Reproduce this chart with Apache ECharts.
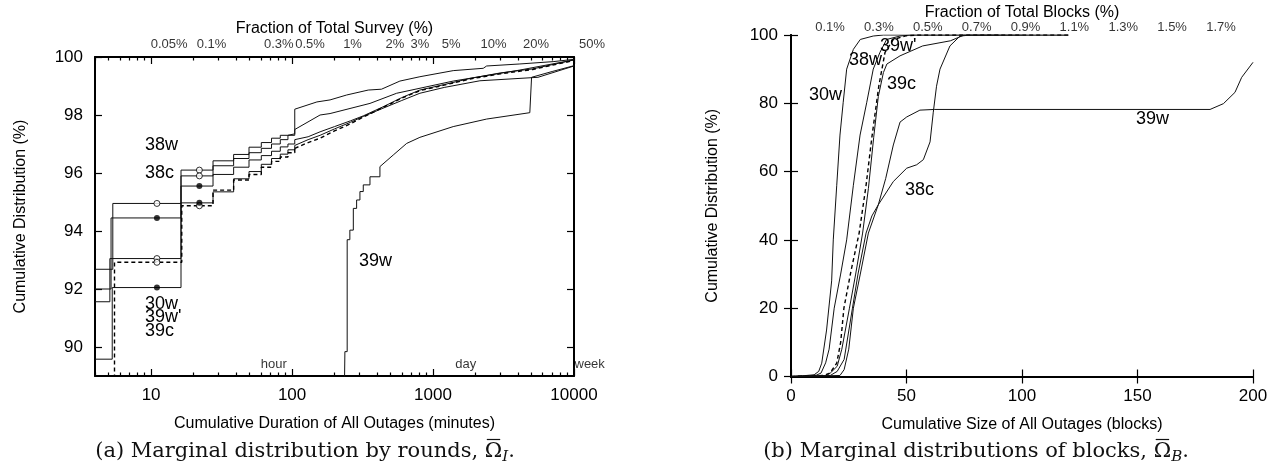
<!DOCTYPE html>
<html>
<head>
<meta charset="utf-8">
<script src="https://cdn.jsdelivr.net/npm/echarts@6/dist/echarts.min.js"></script>
<style>
html, body { margin: 0; background: #fff; }
#chart { width: 1288px; height: 476px; }
</style>
</head>
<body>
<div id="chart"></div>
<script>
// ---- (a) cumulative duration (minutes) vs cumulative distribution (%) ----
// stepped head (CDF steps) and smooth tail of every curve
var dur38wHead = [[4, 92.68], [5.35, 94.95], [16.3, 96.1], [27.5, 96.42], [38.5, 96.64], [49.5, 96.89], [60.5, 97.05], [71.5, 97.2], [82.5, 97.3], [93.5, 97.35], [104.5, 98.2]];
var dur38wTail = [[104.5, 98.2], [150, 98.45], [186, 98.52], [244, 98.69], [347, 98.86], [431, 98.89], [582, 99.17], [807, 99.32], [1390, 99.53], [2270, 99.61], [2400, 99.69], [4130, 99.76], [7110, 99.84], [10000, 99.92]];
var dur38cHead = [[4, 92.0], [5.2, 94.45], [16.3, 95.55], [27.5, 95.95], [38.5, 96.2], [49.5, 96.45], [60.5, 96.6], [71.5, 96.75], [82.5, 96.9], [93.5, 97.0], [104.5, 97.15]];
var dur38cTail = [[104.5, 97.15], [130, 97.25], [158, 97.42], [200, 97.6], [260, 97.8], [320, 97.97], [450, 98.3], [600, 98.6], [807, 98.86], [1200, 99.05], [1828, 99.26], [3000, 99.45], [5100, 99.59], [10000, 99.9]];
var dur30wHead = [[4, 91.56], [5.1, 93.05], [16.3, 95.9], [27.5, 96.25], [38.5, 96.5], [49.5, 96.7], [60.5, 96.85], [71.5, 97.0], [82.5, 97.15], [93.5, 97.3], [104.5, 97.5]];
var dur30wTail = [[104.5, 97.5], [134, 97.8], [158, 98.0], [186, 98.05], [357, 98.4], [552, 98.75], [1390, 99.17], [4130, 99.55], [10000, 99.9]];
var dur39cHead = [[4, 89.58], [5.3, 92.05], [16.3, 94.97], [27.5, 95.35], [38.5, 95.8], [49.5, 96.05], [60.5, 96.3], [71.5, 96.5], [82.5, 96.65], [93.5, 96.8], [104.5, 96.95]];
var dur39cTail = [[104.5, 96.95], [130, 97.15], [158, 97.3], [200, 97.52], [260, 97.75], [320, 97.95], [450, 98.25], [600, 98.5], [807, 98.75], [1200, 98.95], [2150, 99.18], [5550, 99.3], [10000, 99.69]];
var dur39wpHead = [[4, 85], [5.5, 92.92], [16.5, 94.87], [27.5, 95.41], [38.5, 95.76], [49.5, 95.95], [60.5, 96.2], [71.5, 96.4], [82.5, 96.55], [93.5, 96.7], [104.5, 96.85]];
var dur39wpTail = [[104.5, 96.85], [130, 97.05], [158, 97.2], [200, 97.45], [260, 97.7], [320, 97.93], [450, 98.28], [600, 98.58], [807, 98.84], [1200, 99.03], [1828, 99.24], [3000, 99.42], [5100, 99.57], [10000, 99.88]];
var dur39wHead = [[230, 85], [237, 89.84], [246, 93.7], [257, 94.03], [272, 94.78], [287, 95.07], [303, 95.36], [320, 95.59], [357, 95.87], [420, 96.22]];
var dur39wTail = [[420, 96.22], [522, 96.62], [650, 97.02], [807, 97.23], [1390, 97.6], [2400, 97.86], [4860, 98.08], [5000, 99.3], [7000, 99.5], [10000, 99.7]];

var durMarkAt = [11, 22];                 // minutes where circles sit
var durTicks = [10, 100, 1000, 10000];
var durPctTicks = [90, 92, 94, 96, 98, 100];
var surveyTotalMin = 26850;               // minutes in the whole survey (100%)
var surveyFrac = [0.05, 0.1, 0.3, 0.5, 1, 2, 3, 5, 10, 20, 50];
var surveyFracLabels = ['0.05%', '0.1%', '0.3%', '0.5%', '1%', '2%', '3%', '5%', '10%', '20%', '50%'];
var timeMarks = [60, 1440, 10080];
var timeMarkLabels = ['hour', 'day', 'week'];

// ---- (b) cumulative size (blocks) vs cumulative distribution (%) ----
var blk30w = [[0, 0], [5, 0.2], [10, 0.5], [12, 1.5], [13.3, 3.9], [15.4, 13.6], [17.6, 28], [18.3, 40], [19.8, 56], [21.2, 70.7], [22.6, 80.3], [24.1, 90], [27, 95.8], [30, 98.7], [35.6, 99.7], [40, 100], [90, 100]];
var blk38w = [[0, 0], [8, 0.2], [11, 0.4], [13, 1], [15, 4], [16.5, 8], [18.7, 20], [21.5, 30], [24.1, 40], [27, 56], [29.9, 70.7], [32.8, 80.3], [35.6, 90], [38.5, 94.9], [41.4, 98.7], [47.2, 99.7], [52, 100], [100, 100]];
var blk39wp = [[0, 0], [14, 0.3], [16.9, 1], [19.8, 3.9], [21.5, 10], [22.9, 20], [26, 31], [29.5, 42], [32.5, 56], [35, 70], [38, 85], [40.7, 94.9], [44.3, 98.7], [50, 99.8], [55, 100], [121, 100]];
var blk39c = [[0, 0], [15, 0.2], [17, 1], [20, 3], [22, 8], [25.3, 20], [28, 30], [31, 42], [33.5, 55], [35.8, 70], [37.8, 82], [40, 89], [41.5, 91.5], [47.2, 93.9], [57, 96.8], [69, 98.3], [75, 100], [120, 100]];
var blk38c = [[0, 0], [17, 0.3], [20, 1.5], [23, 5], [26.6, 20], [29, 30], [32.5, 42], [35, 47], [37.8, 50.3], [44.3, 57.1], [50.1, 61], [54.4, 62], [57.3, 63.5], [60.2, 68.7], [61.6, 77.4], [63, 85], [64.5, 90], [68.8, 96.8], [73.2, 99.7], [78, 100], [120, 100]];
var blk39w = [[0, 0], [21.2, 0.3], [23, 2], [25, 8], [27, 20], [30, 30], [33.5, 42], [37.8, 50.3], [41, 58], [44.3, 67.8], [47.2, 74.5], [50.1, 76], [55.8, 78], [62, 78.2], [181.4, 78.2], [187.2, 79.9], [192.2, 83.2], [195.1, 87.6], [200, 92]];

var blockFrac = [0.1, 0.3, 0.5, 0.7, 0.9, 1.1, 1.3, 1.5, 1.7];
var blockFracLabels = ['0.1%', '0.3%', '0.5%', '0.7%', '0.9%', '1.1%', '1.3%', '1.5%', '1.7%'];

var SANS = 'Liberation Sans, Arial, Helvetica, sans-serif';
var SERIF_FAMILY = 'DejaVu Serif';

var durMinorTicks = [];
[1, 10, 100, 1000].forEach(function (d) {
    for (var k = 2; k <= 9; k++) if (k * d >= 4) durMinorTicks.push(k * d);
});

function stepValueAt(points, x) {
    var v = null;
    points.forEach(function (p) { if (p[0] <= x) v = p[1]; });
    return v;
}

var roundCurves = [
    {name: '38w', head: dur38wHead, tail: dur38wTail, open: true},
    {name: '38c', head: dur38cHead, tail: dur38cTail, open: false},
    {name: '30w', head: dur30wHead, tail: dur30wTail, open: true},
    {name: '39c', head: dur39cHead, tail: dur39cTail, open: false},
    {name: "39w'", head: dur39wpHead, tail: dur39wpTail, open: true, dashed: true},
    {name: '39w', head: dur39wHead, tail: dur39wTail}
];
var blockCurves = [
    {name: '30w', data: blk30w}, {name: '38w', data: blk38w},
    {name: "39w'", data: blk39wp, dashed: true}, {name: '39c', data: blk39c},
    {name: '38c', data: blk38c}, {name: '39w', data: blk39w}
];

function lineStyle(dashed) {
    return dashed ? {color: '#000', width: 1.4, type: [4, 3]} : {color: '#111', width: 1};
}

var series = [];
var openMarks = [], filledMarks = [];
roundCurves.forEach(function (c) {
    series.push({type: 'line', name: c.name, xAxisIndex: 0, yAxisIndex: 0, data: c.head, step: 'end',
        symbol: 'none', lineStyle: lineStyle(c.dashed), silent: true});
    series.push({type: 'line', name: c.name, xAxisIndex: 0, yAxisIndex: 0, data: c.tail,
        symbol: 'none', lineStyle: lineStyle(c.dashed), silent: true});
    if (c.open === undefined) return;
    durMarkAt.forEach(function (m) {
        (c.open ? openMarks : filledMarks).push([m, stepValueAt(c.head, m)]);
    });
});
series.push({type: 'scatter', xAxisIndex: 0, yAxisIndex: 0, data: openMarks, symbolSize: 6, silent: true,
    itemStyle: {color: '#fff', borderColor: '#000', borderWidth: 1}, z: 5});
series.push({type: 'scatter', xAxisIndex: 0, yAxisIndex: 0, data: filledMarks, symbolSize: 6, silent: true,
    itemStyle: {color: '#000'}, z: 5});
// hour / day / week marks
series.push({type: 'scatter', xAxisIndex: 0, yAxisIndex: 0, clip: false, silent: true, symbolSize: 0,
    data: timeMarks.map(function (m) { return [m, 89]; }),
    label: {show: true, position: 'top', align: 'left', distance: 5, fontSize: 13, fontFamily: SANS, color: '#000',
        formatter: function (p) { return timeMarkLabels[p.dataIndex]; }}});
// top fraction labels (a)
series.push({type: 'scatter', xAxisIndex: 4, yAxisIndex: 0, clip: false, silent: true, symbolSize: 0,
    data: surveyFrac.map(function (f) { return [f, 100]; }),
    label: {show: true, position: 'top', distance: 6, fontSize: 13, fontFamily: SANS, color: '#000',
        formatter: function (p) { return surveyFracLabels[p.dataIndex]; }}});

blockCurves.forEach(function (c) {
    series.push({type: 'line', name: c.name, xAxisIndex: 5, yAxisIndex: 2, data: c.data,
        symbol: 'none', lineStyle: lineStyle(c.dashed), silent: true});
});
// top fraction labels (b)
series.push({type: 'scatter', xAxisIndex: 7, yAxisIndex: 2, clip: false, silent: true, symbolSize: 0,
    data: blockFrac.map(function (f) { return [f, 100]; }),
    label: {show: true, position: 'top', distance: 1, fontSize: 13, fontFamily: SANS, color: '#000',
        formatter: function (p) { return blockFracLabels[p.dataIndex]; }}});

var border = {show: true, lineStyle: {color: '#000', width: 2}};
var nameStyle = {fontSize: 16, fontFamily: SANS, color: '#000'};
var tickLabel = {fontSize: 17, fontFamily: SANS, color: '#000'};
function ticks(len, values) {
    var t = {show: true, inside: true, length: len, lineStyle: {color: '#000', width: 1.2}};
    if (values) t.customValues = values;
    return t;
}
function logAxis(position, extra) {
    return Object.assign({type: 'log', gridIndex: 0, position: position, min: 4, max: 10000, logBase: 10,
        splitLine: {show: false}, axisLine: {show: false}, axisLabel: {show: false}, axisTick: {show: false}}, extra);
}

var option = {
    animation: false,
    backgroundColor: '#fff',
    textStyle: {fontFamily: SANS},
    grid: [
        {left: 95, top: 57, width: 479, height: 319},
        {left: 791, top: 32.5, width: 462, height: 344}
    ],
    xAxis: [
        logAxis('bottom', {axisLine: border, axisTick: ticks(7, durTicks),
            axisLabel: Object.assign({show: true, margin: 11, customValues: durTicks,
                formatter: function (v) { return String(Math.round(v)); }}, tickLabel),
            name: 'Cumulative Duration of All Outages (minutes)', nameLocation: 'middle', nameGap: 40,
            nameTextStyle: nameStyle}),
        logAxis('bottom', {axisTick: ticks(3.5, durMinorTicks)}),
        logAxis('top', {axisLine: border, axisTick: ticks(7, durTicks),
            name: 'Fraction of Total Survey (%)', nameLocation: 'middle', nameGap: 20, nameTextStyle: nameStyle}),
        logAxis('top', {axisTick: ticks(3.5, durMinorTicks)}),
        {type: 'log', gridIndex: 0, position: 'top', show: false,
            min: 4 / surveyTotalMin * 100, max: 10000 / surveyTotalMin * 100},
        {type: 'value', gridIndex: 1, position: 'bottom', min: 0, max: 200, interval: 50,
            splitLine: {show: false}, axisLine: border, axisTick: ticks(7),
            axisLabel: Object.assign({margin: 11}, tickLabel),
            name: 'Cumulative Size of All Outages (blocks)', nameLocation: 'middle', nameGap: 40,
            nameTextStyle: nameStyle},
        {type: 'value', gridIndex: 1, position: 'top', min: 0, max: 200, interval: 50,
            splitLine: {show: false}, axisLine: border, axisTick: ticks(7), axisLabel: {show: false},
            name: 'Fraction of Total Blocks (%)', nameLocation: 'middle', nameGap: 14, nameTextStyle: nameStyle},
        {type: 'value', gridIndex: 1, position: 'top', show: false, min: -0.0596, max: 1.831}
    ],
    yAxis: [
        {type: 'value', gridIndex: 0, position: 'left', min: 89, max: 100, splitLine: {show: false},
            axisLine: border, axisTick: ticks(7, durPctTicks),
            axisLabel: Object.assign({margin: 12, customValues: durPctTicks}, tickLabel),
            name: 'Cumulative Distribution (%)', nameLocation: 'middle', nameGap: 66, nameTextStyle: nameStyle},
        {type: 'value', gridIndex: 0, position: 'right', min: 89, max: 100, splitLine: {show: false},
            axisLine: border, axisTick: ticks(7, durPctTicks), axisLabel: {show: false}},
        {type: 'value', gridIndex: 1, position: 'left', min: 0, max: 100, interval: 20, splitLine: {show: false},
            axisLine: border, axisTick: ticks(7), axisLabel: Object.assign({margin: 13}, tickLabel),
            name: 'Cumulative Distribution (%)', nameLocation: 'middle', nameGap: 70, nameTextStyle: nameStyle},
        {type: 'value', gridIndex: 1, position: 'right', min: 0, max: 100, interval: 20, splitLine: {show: false},
            axisLine: border, axisTick: ticks(7), axisLabel: {show: false}}
    ],
    series: series,
    graphic: []
};

// curve names written next to the curves
var notes = [
    ['38w', 145, 145], ['38c', 145, 173.5], ['30w', 145, 304], ["39w'", 145, 317.5], ['39c', 145, 331.5],
    ['39w', 359, 261.5],
    ['30w', 809, 95.5], ['38w', 849, 60], ["39w'", 880, 46.5], ['39c', 887, 84], ['38c', 905, 190], ['39w', 1136, 119.5]
];
notes.forEach(function (n) {
    option.graphic.push({type: 'text', x: n[1], y: n[2], silent: true, z: 10,
        style: {text: n[0], fontSize: 18, fontFamily: SANS, fill: '#000', align: 'left', verticalAlign: 'middle'}});
});

// captions: "(a) ... Ω̄_I." laid out piece by piece so the bar over Ω shows
var measureCtx = document.createElement('canvas').getContext('2d');
function textWidth(text, font) { measureCtx.font = font; return measureCtx.measureText(text).width; }
function addCaption(prefix, sub, cx, cy) {
    var mainFont = '21px ' + SERIF_FAMILY, subFont = 'italic 15px ' + SERIF_FAMILY;
    var wPre = textWidth(prefix, mainFont), wOm = textWidth('\u03A9', mainFont);
    var wSub = textWidth(sub, subFont), wDot = textWidth('.', mainFont);
    var x0 = cx - (wPre + wOm + wSub + wDot) / 2;
    function txt(t, x, y, size, italic) {
        option.graphic.push({type: 'text', x: x, y: y, silent: true,
            style: {text: t, fontSize: size, fontFamily: SERIF_FAMILY, fontStyle: italic ? 'italic' : 'normal',
                fill: '#111', align: 'left', verticalAlign: 'middle'}});
    }
    txt(prefix, x0, cy, 21);
    txt('\u03A9', x0 + wPre, cy, 21);
    option.graphic.push({type: 'line', silent: true,
        shape: {x1: x0 + wPre + 2, y1: cy - 12.5, x2: x0 + wPre + wOm - 2, y2: cy - 12.5},
        style: {stroke: '#111', lineWidth: 1.2}});
    txt(sub, x0 + wPre + wOm, cy + 5, 15, true);
    txt('.', x0 + wPre + wOm + wSub, cy, 21);
}
addCaption('(a) Marginal distribution by rounds, ', 'I', 305, 452);
addCaption('(b) Marginal distributions of blocks, ', 'B', 976, 452);

var chart = echarts.init(document.getElementById('chart'));
chart.setOption(option);
</script>
</body>
</html>
